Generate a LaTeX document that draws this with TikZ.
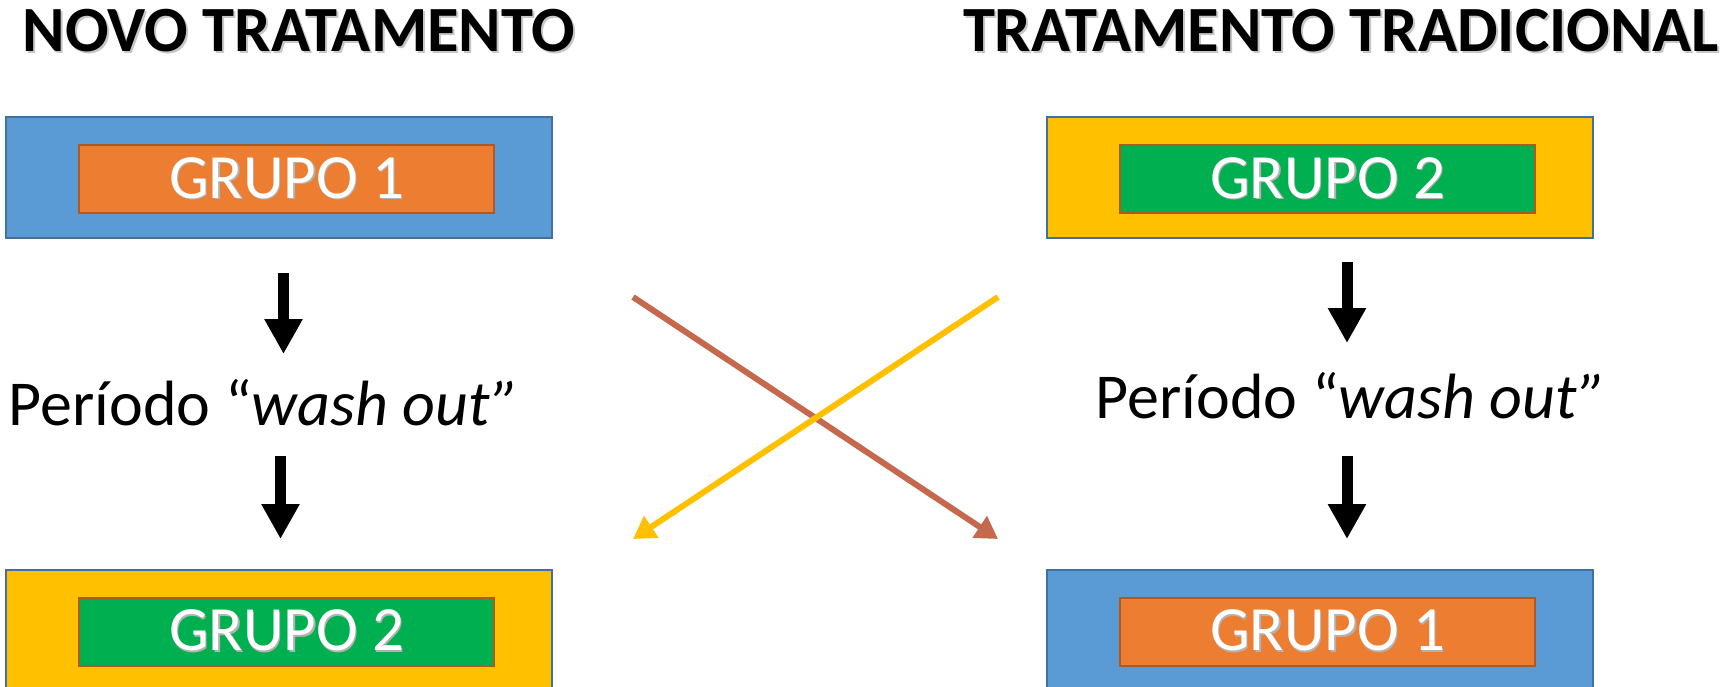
\documentclass[tikz,border=0pt]{standalone}
\usepackage{fontspec}
\setmainfont{Carlito}
\usetikzlibrary{arrows.meta}

\definecolor{skyblue}{HTML}{5B9BD5}
\definecolor{edgeblue}{HTML}{41719C}
\definecolor{tangerine}{HTML}{ED7D31}
\definecolor{rust}{HTML}{AE5A21}
\definecolor{gold}{HTML}{FFC000}
\definecolor{leaf}{HTML}{00B050}
\definecolor{terracotta}{HTML}{C4694E}

% text with a soft drop shadow behind it
\newcommand{\withshadow}[3]{\makebox[0pt][l]{\hspace{#2}\raisebox{-#2}{\textcolor{#3}{#1}}}#1}

\tikzset{
  outerbox/.style={draw=edgeblue, line width=2pt, minimum width=546pt,
    minimum height=121pt, inner sep=0pt},
  innerbox/.style={draw=rust, line width=2pt, minimum width=415pt,
    minimum height=68pt, inner sep=0pt, text=white,
    font=\fontsize{63}{63}\selectfont},
  heading/.style={font=\fontsize{64.5}{64.5}\selectfont\bfseries, inner sep=0pt},
  phase/.style={font=\fontsize{64}{64}\selectfont, inner sep=0pt, anchor=base},
  downarrow/.style={line width=11pt, -{Triangle[width=36pt,length=35pt]}},
  crossarrow/.style={line width=6pt, -{Triangle[width=25pt,length=22pt]}},
}

\begin{document}
\begin{tikzpicture}[x=1pt, y=-1pt]
  \clip (0,0) rectangle (1724,687);
  \fill[white] (0,0) rectangle (1724,687);

  % column headings
  \node[heading] (headL) at (299,32) {\withshadow{NOVO TRATAMENTO}{2pt}{black!22}};
  \node[heading] (headR) at (1341,32) {\withshadow{TRATAMENTO TRADICIONAL}{2pt}{black!22}};

  % first period
  \node[outerbox, fill=skyblue] (topL) at (279,178) {};
  \node[innerbox, fill=tangerine] (g1a) at (286.5,179) {\withshadow{GRUPO 1}{1.5pt}{black!30}};
  \node[outerbox, fill=gold] (topR) at (1320,178) {};
  \node[innerbox, fill=leaf] (g2a) at (1327.5,179) {\withshadow{GRUPO 2}{1.5pt}{black!30}};

  % wash-out phase
  \node[phase] (washL) at (264,425) {Período “\textit{wash out”}};
  \node[phase] (washR) at (1351,418) {Período “\textit{wash out”}};

  % second period
  \node[outerbox, fill=gold] (botL) at (279,630) {};
  \node[innerbox, fill=leaf] (g2b) at (286.5,631.5) {\withshadow{GRUPO 2}{1.5pt}{black!30}};
  \node[outerbox, fill=skyblue] (botR) at (1320,630) {};
  \node[innerbox, fill=tangerine] (g1b) at (1327.5,631.5) {\withshadow{GRUPO 1}{1.5pt}{black!30}};

  % vertical flow arrows
  \coordinate (aL1s) at (283.5,273);
  \coordinate (aL1e) at (283.5,354);
  \coordinate (aL2s) at (280.5,456);
  \coordinate (aL2e) at (280.5,539);
  \coordinate (aR1s) at (1347,262);
  \coordinate (aR1e) at (1347,343);
  \coordinate (aR2s) at (1347,456);
  \coordinate (aR2e) at (1347,539);
  \draw[downarrow] (aL1s) -- (aL1e);
  \draw[downarrow] (aL2s) -- (aL2e);
  \draw[downarrow] (aR1s) -- (aR1e);
  \draw[downarrow] (aR2s) -- (aR2e);

  % crossover
  \coordinate (xTL) at (633,297);
  \coordinate (xTR) at (998,297);
  \coordinate (xBL) at (633,539);
  \coordinate (xBR) at (998,539);
  \draw[crossarrow, terracotta] (xTL) -- (xBR);
  \draw[crossarrow, gold] (xTR) -- (xBL);
\end{tikzpicture}
\end{document}
